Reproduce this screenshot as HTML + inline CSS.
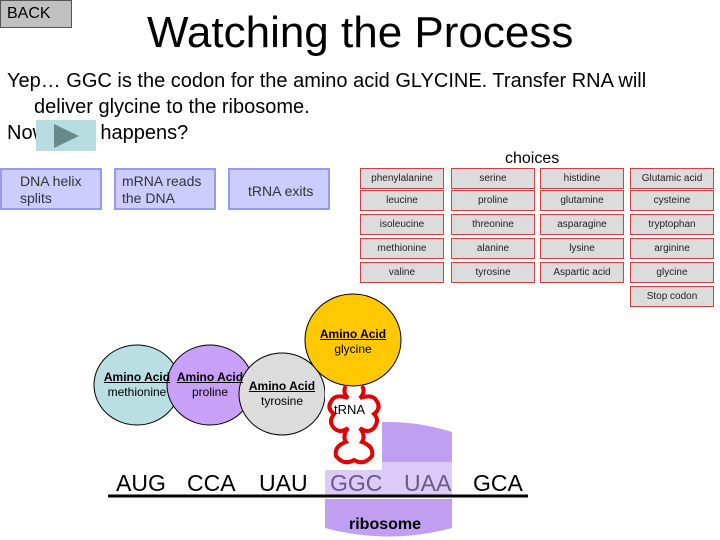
<!DOCTYPE html>
<html><head><meta charset="utf-8"><style>
body{margin:0;width:720px;height:540px;background:#fff;position:relative;overflow:hidden;font-family:"Liberation Sans",sans-serif}
.a{position:absolute}
.btn{position:absolute;background:#ccccff;border:2px solid #9999ee;box-sizing:border-box;font-size:14px;color:#333;line-height:17px}
.c{position:absolute;width:84px;height:21px;background:#dcdcdc;border:1px solid #d04040;box-sizing:border-box;font-size:10px;text-align:center;line-height:19px;color:#222}
</style></head><body>
<div class="a" style="left:0;top:0;width:72px;height:28px;background:#c0c0c0;border:1px solid #555;box-sizing:border-box;font-size:16px;line-height:26px;padding-left:6px">BACK</div>
<div class="a" style="left:147px;top:8px;font-size:44px;line-height:50px">Watching the Process</div>
<div class="a" style="left:7px;top:68px;font-size:20px;line-height:26px;width:700px">Yep… GGC is the codon for the amino acid GLYCINE. Transfer RNA will<br><span style="padding-left:27px">deliver glycine to the ribosome.</span><br>Now what happens?</div>
<div class="a" style="left:36px;top:120px;width:60px;height:31px;background:#b8dde0"></div>
<svg class="a" style="left:52px;top:122px" width="30" height="28"><polygon points="2,2 27,14 2,26" fill="#6a8a8a"/></svg>
<div class="btn" style="left:0;top:168px;width:102px;height:42px;padding:3px 0 0 18px">DNA helix<br>splits</div>
<div class="btn" style="left:114px;top:168px;width:102px;height:42px;padding:3px 0 0 6px">mRNA reads<br>the DNA</div>
<div class="btn" style="left:228px;top:168px;width:102px;height:42px;padding:13px 0 0 18px">tRNA exits</div>
<div class="a" style="left:505px;top:150px;font-size:16px">choices</div>
<div class="c" style="left:360px;top:168px">phenylalanine</div><div class="c" style="left:451px;top:168px">serine</div><div class="c" style="left:540px;top:168px">histidine</div><div class="c" style="left:630px;top:168px">Glutamic acid</div>
<div class="c" style="left:360px;top:190px">leucine</div><div class="c" style="left:451px;top:190px">proline</div><div class="c" style="left:540px;top:190px">glutamine</div><div class="c" style="left:630px;top:190px">cysteine</div>
<div class="c" style="left:360px;top:214px">isoleucine</div><div class="c" style="left:451px;top:214px">threonine</div><div class="c" style="left:540px;top:214px">asparagine</div><div class="c" style="left:630px;top:214px">tryptophan</div>
<div class="c" style="left:360px;top:238px">methionine</div><div class="c" style="left:451px;top:238px">alanine</div><div class="c" style="left:540px;top:238px">lysine</div><div class="c" style="left:630px;top:238px">arginine</div>
<div class="c" style="left:360px;top:262px">valine</div><div class="c" style="left:451px;top:262px">tyrosine</div><div class="c" style="left:540px;top:262px">Aspartic acid</div><div class="c" style="left:630px;top:262px">glycine</div>
<div class="c" style="left:630px;top:286px">Stop codon</div>
<svg class="a" style="left:0;top:0" width="720" height="540">
<path d="M325,432 Q388,412 452,432 L452,462 L325,462 Z" fill="#c09ef0"/>
<rect x="325" y="462" width="127" height="34" fill="#dccaf7"/>
<path d="M325,499 L452,499 L452,528 Q388,545 325,528 Z" fill="#c09ef0"/>
<ellipse cx="137" cy="385" rx="43" ry="40" fill="#b9dfe2" stroke="#000"/>
<ellipse cx="210" cy="385" rx="43" ry="40" fill="#c9a0f7" stroke="#000"/>
<ellipse cx="282" cy="394" rx="43" ry="41" fill="#dcdcdc" stroke="#000"/>
<rect x="325" y="382" width="57" height="88" fill="#fff"/>
<ellipse cx="353" cy="340" rx="48" ry="46" fill="#ffc800" stroke="#000"/>
<path d="M346,386 Q342,392 348,398 Q336,394 332,400 Q326,408 334,414 Q328,422 334,428 Q340,434 348,428 Q342,436 346,442 Q334,446 336,456 Q344,466 354,460 Q364,466 372,456 Q374,446 362,442 Q366,436 360,428 Q368,434 374,428 Q380,420 374,414 Q382,408 376,400 Q372,394 360,398 Q366,392 362,386" fill="none" stroke="#e00000" stroke-width="4"/>
<line x1="108" y1="496" x2="528" y2="496" stroke="#000" stroke-width="3"/>
</svg>
<div class="a" style="left:116px;top:470px;font-size:23px;word-spacing:0"><span>AUG</span><span style="position:absolute;left:71px">CCA</span><span style="position:absolute;left:143px">UAU</span><span style="position:absolute;left:214px;color:#6a5a8a">GGC</span><span style="position:absolute;left:288px;color:#6a5a8a">UAA</span><span style="position:absolute;left:357px">GCA</span></div>
<div class="a" style="left:349px;top:516px;font-size:16px;font-weight:bold">ribosome</div>
<div class="a" style="left:334px;top:402px;font-size:13px">tRNA</div>
<div class="a" style="left:305px;top:327px;width:96px;text-align:center;font-size:12px;line-height:15px"><b><u>Amino Acid</u></b><br>glycine</div>
<div class="a" style="left:94px;top:370px;width:86px;text-align:center;font-size:12px;line-height:15px"><b><u>Amino Acid</u></b><br>methionine</div>
<div class="a" style="left:167px;top:370px;width:86px;text-align:center;font-size:12px;line-height:15px"><b><u>Amino Acid</u></b><br>proline</div>
<div class="a" style="left:239px;top:379px;width:86px;text-align:center;font-size:12px;line-height:15px"><b><u>Amino Acid</u></b><br>tyrosine</div>
</body></html>
